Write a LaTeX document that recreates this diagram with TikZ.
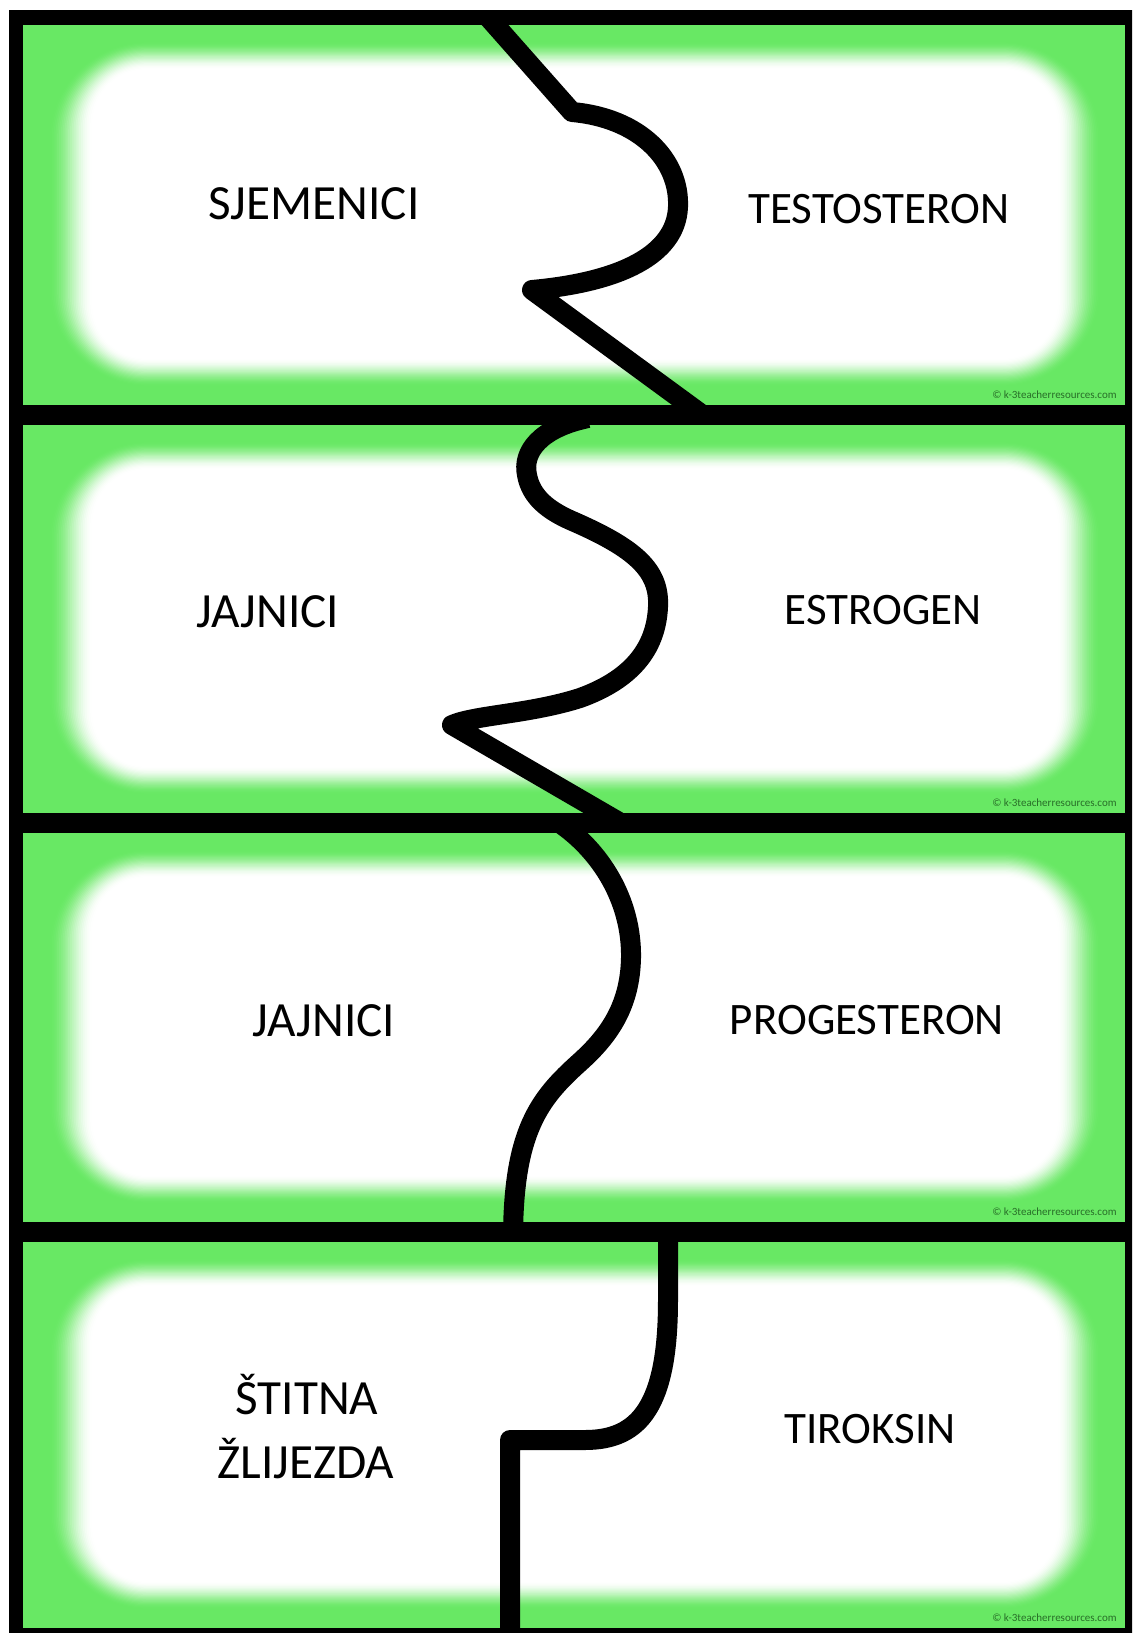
\documentclass[tikz,border=0pt]{standalone}
\usepackage{fontspec}
\setmainfont{Carlito}
\definecolor{pgreen}{RGB}{104,232,100}
\definecolor{wmark}{RGB}{40,110,40}
\begin{document}
\begin{tikzpicture}[x=0.5pt,y=-0.5pt,
  lbl/.style={font=\fontsize{22.5}{27}\selectfont, inner sep=0pt, anchor=base},
  lblL/.style={font=\fontsize{24.6}{30}\selectfont, inner sep=0pt, anchor=base},
  wm/.style={font=\fontsize{5.5}{6}\selectfont, text=wmark, inner sep=0pt, anchor=base east},
  cut/.style={line width=10pt, line join=round, draw=black}]
\clip (0,0) rectangle (1132,1633);
\fill[white] (0,0) rectangle (1132,1633);
\fill[black] (9,10) rectangle (1140,1640);
\foreach \ya/\yb in {25/405,425/813,833/1222,1242/1628}{
  \fill[pgreen] (23,\ya) rectangle (1125,\yb);
  \foreach \k in {0,...,24}{
    \pgfmathsetmacro\dx{44*(1-\k/24)}
    \pgfmathsetmacro\dy{28*(1-\k/24)}
    \pgfmathsetmacro\tt{\k/24}
    \pgfmathsetmacro\pc{100*(3*\tt*\tt-2*\tt*\tt*\tt)}
    \pgfmathsetmacro\rr{(55+\dx)*0.5}
    \fill[white!\pc!pgreen, rounded corners=\rr pt] ({92-\dx},{\ya+44-\dy}) rectangle ({1058+\dx},{\yb-46+\dy});
  }
}
% cut lines
\draw[cut] (488,17) -- (572,112) .. controls (640,118) and (680,160) .. (678,207)
  .. controls (676,255) and (620,282) .. (532,290) -- (704,416);
\draw[cut] (588,418) .. controls (540,428) and (522,452) .. (527,475)
  .. controls (531,497) and (548,510) .. (570,520)
  .. controls (635,548) and (660,570) .. (658,607)
  .. controls (656,650) and (630,680) .. (580,698)
  .. controls (530,714) and (475,715) .. (452,725) -- (619,822);
\draw[cut] (558,822) .. controls (600,850) and (632,900) .. (631,958)
  .. controls (630,1005) and (610,1035) .. (580,1062)
  .. controls (540,1098) and (513,1130) .. (513,1240);
\draw[cut] (668,1234) -- (668,1300) .. controls (668,1405) and (640,1440) .. (585,1440)
  -- (510,1440) -- (510,1640);
% labels
\node[lblL] (sjem) at (314,219) {SJEMENICI};
\node[lbl] (test) at (879,223) {TESTOSTERON};
\node[lblL] (jaj1) at (268,627) {JAJNICI};
\node[lbl] (estr) at (883,624) {ESTROGEN};
\node[lblL] (jaj2) at (324,1036) {JAJNICI};
\node[lbl] (prog) at (867,1034) {PROGESTERON};
\node[lblL] (stit) at (307,1414) {ŠTITNA};
\node[lblL] (zlij) at (306,1478) {ŽLIJEZDA};
\node[lbl] (tiro) at (870,1443) {TIROKSIN};
% watermarks
\node[wm] (wm1) at (1117,398) {© k-3teacherresources.com};
\node[wm] (wm2) at (1117,806) {© k-3teacherresources.com};
\node[wm] (wm3) at (1117,1215) {© k-3teacherresources.com};
\node[wm] (wm4) at (1117,1621) {© k-3teacherresources.com};
\end{tikzpicture}
\end{document}
